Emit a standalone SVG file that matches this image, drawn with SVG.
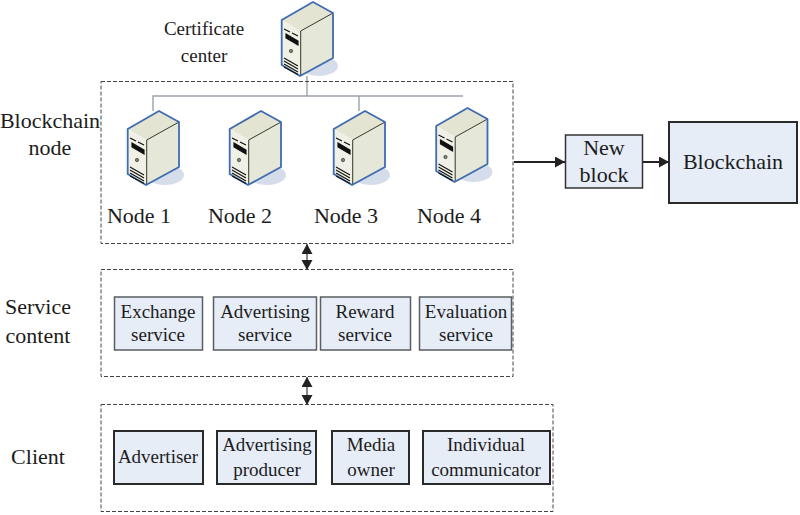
<svg xmlns="http://www.w3.org/2000/svg" xmlns:xlink="http://www.w3.org/1999/xlink" width="800" height="515" viewBox="0 0 800 515">
  <style>
    text { font-family: "Liberation Serif", "Times New Roman", serif; fill: #1c1c1c; text-anchor: middle; }
    .t18 { font-size: 19px; }
    .t21 { font-size: 22px; }
    .t16 { font-size: 19px; }
    .zone { fill: none; stroke: #444; stroke-width: 1; stroke-dasharray: 4 2; }
    .box { fill: #e6edf7; stroke: #5a5e62; stroke-width: 1.5; }
    .dark { fill: #e6edf7; stroke: #2a2a2a; stroke-width: 2; }
    .bus { fill: none; stroke: #9aa3ab; stroke-width: 1.4; }
    .flow { fill: none; stroke: #222; stroke-width: 2; }
    .link { fill: none; stroke: #555; stroke-width: 1.4; }
  </style>
  <defs>
    <marker id="tip" markerUnits="userSpaceOnUse" markerWidth="12" markerHeight="12" refX="10" refY="5.500" orient="auto-start-reverse">
      <path d="M0 0L10 5.500L0 11Z" fill="#222"/>
    </marker>
    <g id="server">
      <ellipse cx="38" cy="64" rx="19" ry="10" fill="#d5dcea"/>
      <path d="M.7 18L32 0L52 11L19.700 29Z" fill="#e3e5d2"/>
      <path d="M.7 18L19.700 29V74L.7 63Z" fill="#f0f0e6"/>
      <path d="M19.700 29L52 11V56L19 74Z" fill="#e5e8d8"/>
      <path d="M19.700 29L52 11M19.700 29V74" fill="none" stroke="#34382c" stroke-width="1"/>
      <path d="M.7 18L32 0L52 11V56L19 74L.7 63Z" fill="none" stroke="#3f6cb0" stroke-width="1.800" stroke-linejoin="round"/>
      <path d="M3 27L9 30M11 31L17 34M5 32L17 39V43L5 36Z" fill="#111" stroke="#111" stroke-width="1.200"/>
      <circle cx="10" cy="49" r="1.700" fill="#6d8c66" stroke="#333" stroke-width=".6"/>
      <path d="M3 56L17 64M3 59L17 67M3 62L17 70M3 65L17 72.500" fill="none" stroke="#111" stroke-width="1.100"/>
    </g>
  </defs>

  <g id="connectors">
    <path class="bus" d="M307 76V96M153 111V96H463M359 96V111"/>
    <path class="flow" d="M514 162H565" marker-end="url(#tip)"/>
    <path class="flow" d="M643 162H669" marker-end="url(#tip)"/>
    <path class="link" d="M307 244V270" marker-start="url(#tip)" marker-end="url(#tip)"/>
    <path class="link" d="M307 377V405" marker-start="url(#tip)" marker-end="url(#tip)"/>
  </g>

  <g id="blockchain-zone">
    <rect class="zone" x="101" y="81.500" width="412" height="162"/>
    <text class="t21" x="50" y="128">Blockchain</text>
    <text class="t21" x="50" y="155">node</text>
  </g>
  <g id="service-zone">
    <rect class="zone" x="101" y="269.500" width="412" height="107"/>
    <text class="t21" x="38" y="314">Service</text>
    <text class="t21" x="38" y="343">content</text>
  </g>
  <g id="client-zone">
    <rect class="zone" x="101" y="404.500" width="452" height="107"/>
    <text class="t21" x="38" y="464">Client</text>
  </g>

  <g id="certificate-center">
    <use href="#server" x="281" y="2"/>
    <text class="t16" x="204" y="35">Certificate</text>
    <text class="t16" x="204" y="62">center</text>
  </g>
  <g id="node-1">
    <use href="#server" x="127" y="111"/>
    <text class="t21" x="139" y="223">Node 1</text>
  </g>
  <g id="node-2">
    <use href="#server" x="229" y="111"/>
    <text class="t21" x="240" y="223">Node 2</text>
  </g>
  <g id="node-3">
    <use href="#server" x="333" y="111"/>
    <text class="t21" x="346" y="223">Node 3</text>
  </g>
  <g id="node-4">
    <use href="#server" x="435.500" y="108"/>
    <text class="t21" x="449" y="223">Node 4</text>
  </g>

  <g id="new-block">
    <rect class="box" x="565.500" y="135" width="77" height="53" style="stroke:#333"/>
    <text class="t21" x="604" y="155">New</text>
    <text class="t21" x="604" y="182">block</text>
  </g>
  <g id="blockchain">
    <rect class="dark" x="669" y="122" width="128" height="81"/>
    <text class="t21" x="733" y="169">Blockchain</text>
  </g>

  <g id="exchange-service">
    <rect class="box" x="114.500" y="297" width="88" height="53"/>
    <text class="t18" x="158" y="318">Exchange</text>
    <text class="t18" x="158" y="341">service</text>
  </g>
  <g id="advertising-service">
    <rect class="box" x="213.500" y="297" width="103" height="53"/>
    <text class="t18" x="265" y="318">Advertising</text>
    <text class="t18" x="265" y="341">service</text>
  </g>
  <g id="reward-service">
    <rect class="box" x="320.500" y="297" width="90" height="53"/>
    <text class="t18" x="365" y="318">Reward</text>
    <text class="t18" x="365" y="341">service</text>
  </g>
  <g id="evaluation-service">
    <rect class="box" x="419.500" y="297" width="92" height="53"/>
    <text class="t18" x="466" y="318">Evaluation</text>
    <text class="t18" x="466" y="341">service</text>
  </g>

  <g id="advertiser">
    <rect class="dark" x="114" y="431" width="89" height="53"/>
    <text class="t18" x="158" y="463">Advertiser</text>
  </g>
  <g id="advertising-producer">
    <rect class="dark" x="217" y="431" width="99" height="53"/>
    <text class="t18" x="267" y="451">Advertising</text>
    <text class="t18" x="267" y="476">producer</text>
  </g>
  <g id="media-owner">
    <rect class="dark" x="332" y="431" width="77" height="53"/>
    <text class="t18" x="371" y="451">Media</text>
    <text class="t18" x="371" y="476">owner</text>
  </g>
  <g id="individual-communicator">
    <rect class="dark" x="423" y="431" width="127" height="53"/>
    <text class="t18" x="486" y="451">Individual</text>
    <text class="t18" x="486" y="476">communicator</text>
  </g>
</svg>
